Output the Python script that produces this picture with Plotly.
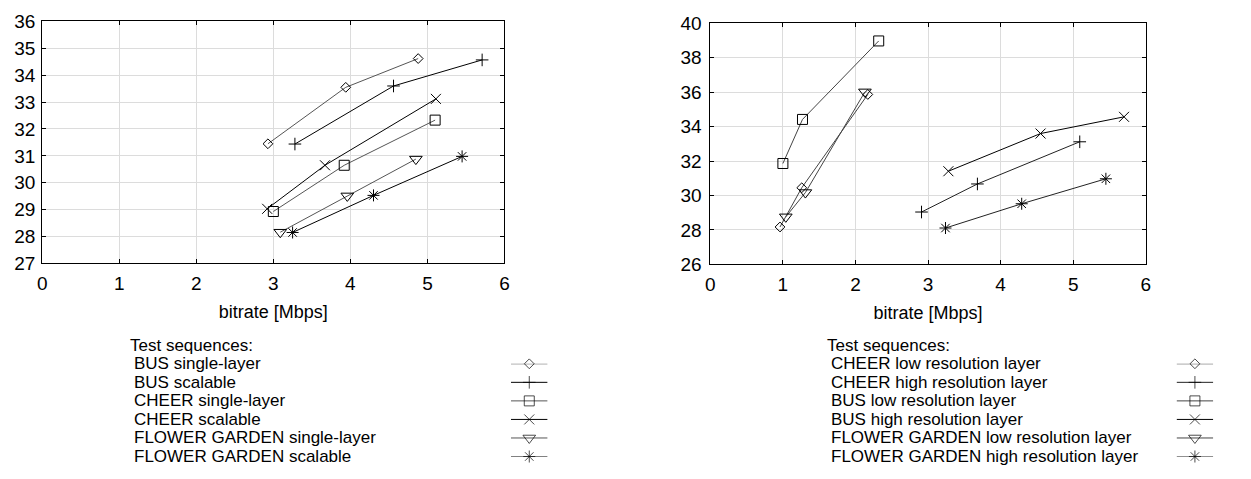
import plotly.graph_objects as go

# ---------------- data ----------------
left_names = ["BUS single-layer", "BUS scalable", "CHEER single-layer",
              "CHEER scalable", "FLOWER GARDEN single-layer", "FLOWER GARDEN scalable"]
left_x = [
    [2.93, 3.94, 4.88],
    [3.28, 4.56, 5.71],
    [3.00, 3.92, 5.10],
    [2.92, 3.67, 5.11],
    [3.09, 3.96, 4.85],
    [3.25, 4.30, 5.45],
]
left_y = [
    [31.45, 33.55, 34.62],
    [31.44, 33.60, 34.57],
    [28.93, 30.65, 32.33],
    [29.03, 30.65, 33.12],
    [28.16, 29.51, 30.88],
    [28.15, 29.53, 30.98],
]

right_names = ["CHEER low resolution layer", "CHEER high resolution layer",
               "BUS low resolution layer", "BUS high resolution layer",
               "FLOWER GARDEN low resolution layer", "FLOWER GARDEN high resolution layer"]
right_x = [
    [0.96, 1.26, 2.17],
    [2.91, 3.68, 5.09],
    [1.00, 1.27, 2.32],
    [3.28, 4.55, 5.70],
    [1.04, 1.31, 2.13],
    [3.24, 4.29, 5.45],
]
right_y = [
    [28.17, 30.45, 35.87],
    [29.04, 30.67, 33.12],
    [31.86, 34.42, 38.98],
    [31.41, 33.60, 34.57],
    [28.76, 30.17, 36.02],
    [28.11, 29.52, 30.97],
]

x_ticks = [0, 1, 2, 3, 4, 5, 6]
left_y_ticks = [27, 28, 29, 30, 31, 32, 33, 34, 35, 36]
right_y_ticks = [26, 28, 30, 32, 34, 36, 38, 40]
x_title = "bitrate [Mbps]"
legend_title = "Test sequences:"

# ---------------- styles ----------------
symbols = ["diamond-open", "cross-thin-open", "square-open",
           "x-thin-open", "triangle-down-open", "asterisk-open"]
sizes = [7.5, 9, 10, 10, 11, 10]
left_colors = ["#555555", "#000000", "#555555", "#000000", "#555555", "#000000"]
right_colors = ["#444444", "#222222", "#444444", "#000000", "#444444", "#222222"]

W, H = 1251, 479
FONT = "Liberation Sans, Arial, sans-serif"
LEG_FONT = 17


def fx(px):
    return px / W


def fy(py):
    return 1 - py / H


fig = go.Figure()

for i in range(6):
    fig.add_trace(go.Scatter(
        x=left_x[i], y=left_y[i], mode="lines+markers", xaxis="x", yaxis="y",
        line=dict(color=left_colors[i], width=1),
        marker=dict(symbol=symbols[i], size=sizes[i], color="black",
                    line=dict(color="black", width=1)),
        showlegend=False, cliponaxis=False))
    fig.add_trace(go.Scatter(
        x=right_x[i], y=right_y[i], mode="lines+markers", xaxis="x2", yaxis="y2",
        line=dict(color=right_colors[i], width=1),
        marker=dict(symbol=symbols[i], size=sizes[i], color="black",
                    line=dict(color="black", width=1)),
        showlegend=False, cliponaxis=False))

# legend samples (on hidden helper axes)
for i in range(6):
    fig.add_trace(go.Scatter(
        x=[0, 1, 2], y=[i, i, i], mode="lines+markers", xaxis="x3", yaxis="y3",
        line=dict(color=left_colors[i], width=1),
        marker=dict(symbol=symbols[i], size=[0, sizes[i], 0], color="black",
                    line=dict(color="black", width=1)),
        showlegend=False, cliponaxis=False, hoverinfo="skip"))
    fig.add_trace(go.Scatter(
        x=[0, 1, 2], y=[i, i, i], mode="lines+markers", xaxis="x4", yaxis="y4",
        line=dict(color=right_colors[i], width=1),
        marker=dict(symbol=symbols[i], size=[0, sizes[i], 0], color="black",
                    line=dict(color="black", width=1)),
        showlegend=False, cliponaxis=False, hoverinfo="skip"))

axis_common = dict(
    showline=True, linecolor="black", linewidth=1, mirror="ticks",
    ticks="inside", ticklen=4, tickcolor="black", tickwidth=1,
    showgrid=True, gridcolor="#dcdcdc", gridwidth=1, zeroline=False,
    tickfont=dict(family=FONT, size=19, color="black"),
)

row0, row5 = 370, 467
step = (row5 - row0) / 5
title_row = 351
legend_y_dom = [fy(row5), fy(row0)]

fig.update_layout(
    width=W, height=H, autosize=False,
    margin=dict(l=0, r=0, t=0, b=0),
    paper_bgcolor="white", plot_bgcolor="white",
    font=dict(family=FONT, size=18, color="black"),
    xaxis=dict(domain=[fx(37.5), fx(503.5)], range=[0, 6], tickvals=x_ticks,
               anchor="y", ticklabelstandoff=3,
               title=dict(text=x_title, standoff=12,
                          font=dict(family=FONT, size=18)), **axis_common),
    yaxis=dict(domain=[fy(265), fy(12)], range=[27, 36], tickvals=left_y_ticks,
               anchor="x", ticklabelstandoff=2, **axis_common),
    xaxis2=dict(domain=[fx(711), fx(1150)], range=[0, 6], tickvals=x_ticks,
                anchor="y2", ticklabelstandoff=3,
                title=dict(text=x_title, standoff=12,
                           font=dict(family=FONT, size=18)), **axis_common),
    yaxis2=dict(domain=[fy(266), fy(14)], range=[26, 40], tickvals=right_y_ticks,
                anchor="x2", ticklabelstandoff=4, **axis_common),
    xaxis3=dict(domain=[fx(510), fx(547)], range=[0, 2], visible=False, anchor="y3"),
    yaxis3=dict(domain=legend_y_dom, range=[5, 0], visible=False, anchor="x3"),
    xaxis4=dict(domain=[fx(1181), fx(1218)], range=[0, 2], visible=False, anchor="y4"),
    yaxis4=dict(domain=legend_y_dom, range=[5, 0], visible=False, anchor="x4"),
)

annotations = []
for x_title_px, x_row_px, names in ((125, 129, left_names),
                                    (828, 832, right_names)):
    annotations.append(dict(text=legend_title, xref="paper", yref="paper",
                            x=fx(x_title_px), y=fy(title_row), xanchor="left",
                            yanchor="middle", showarrow=False, borderpad=0,
                            font=dict(family=FONT, size=LEG_FONT)))
    for i, n in enumerate(names):
        annotations.append(dict(text=n, xref="paper", yref="paper",
                                x=fx(x_row_px), y=fy(row0 + i * step),
                                xanchor="left", yanchor="middle", borderpad=0,
                                showarrow=False, font=dict(family=FONT, size=LEG_FONT)))
fig.update_layout(annotations=annotations)

fig.write_html("out.html")
